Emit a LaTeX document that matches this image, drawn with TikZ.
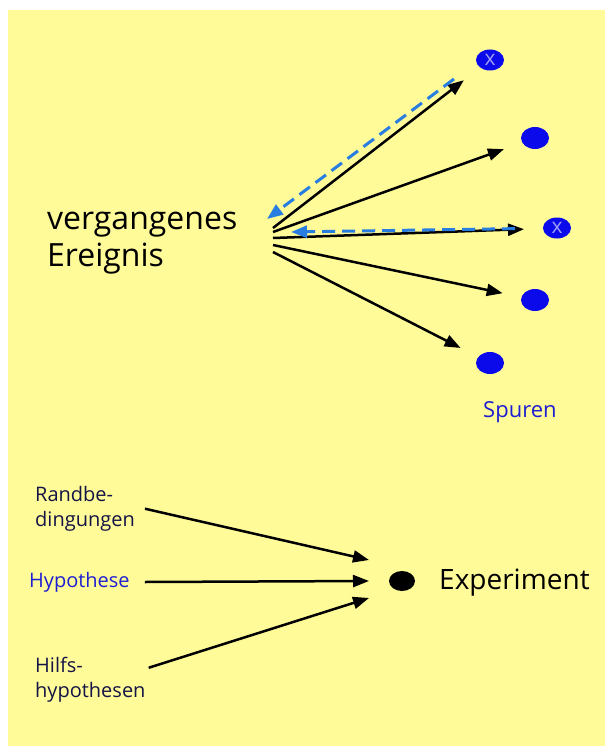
\documentclass[tikz,border=0pt]{standalone}
\usepackage{fontspec}
\setmainfont{Open Sans}
\usetikzlibrary{arrows.meta,shapes.geometric}

\definecolor{sheet}{RGB}{255,251,153}
\definecolor{spot}{RGB}{10,10,235}
\definecolor{trace}{RGB}{40,125,225}
\definecolor{navy}{RGB}{20,20,70}
\definecolor{hypblue}{RGB}{30,30,210}

\begin{document}
\begin{tikzpicture}[x=1pt,y=-1pt,>={Triangle[length=16pt,width=12pt]},
  every node/.style={inner sep=0pt},
  spur/.style={ellipse,fill=spot,minimum width=28pt,minimum height=22pt},
  spurx/.style={spur,minimum height=21pt,text=spot!40!white,font=\fontsize{21}{21}\selectfont},
  ray/.style={->,line width=2.5pt,shorten >=33pt},
  back/.style={->,trace,line width=3pt,dash pattern=on 13pt off 7pt},
  lbl/.style={align=left,text=navy,font=\fontsize{20}{25}\selectfont}]
  % sheet
  \fill[white] (0,0) rectangle (605,746);
  \fill[sheet] (8,10) rectangle (605,746);

  % past event and its traces
  \node[anchor=north west,align=left,font=\fontsize{32}{37}\selectfont] (event) at (47,212) {vergangenes\\Ereignis};
  \coordinate (src1) at (273,228);
  \coordinate (src2) at (273,232);
  \coordinate (src3) at (273,238);
  \coordinate (src4) at (273,245);
  \coordinate (src5) at (273,252);
  \node[spurx] (xtop) at (490,60) {\raisebox{1pt}{x}};
  \node[spur] (s2) at (535,138) {};
  \node[spurx] (xmid) at (557,228) {\raisebox{1pt}{x}};
  \node[spur] (s4) at (535,300) {};
  \node[spur] (s5) at (490,363) {};
  \node[anchor=base west,text=hypblue,font=\fontsize{22}{22}\selectfont] (spuren) at (483,417) {Spuren};

  \draw[ray] (src1) -- (xtop.center);
  \draw[ray] (src2) -- (s2.center);
  \draw[ray] (src3) -- (xmid.center);
  \draw[ray] (src4) -- (s4.center);
  \draw[ray] (src5) -- (s5.center);

  % looking back from the marked traces
  \coordinate (back1) at (267,219);
  \coordinate (back2) at (291,232);
  \draw[back,shorten <=35pt] ([xshift=-8pt,yshift=2pt]xtop.center) -- (back1);
  \draw[back,shorten <=42pt] (xmid.center) -- (back2);

  % experiment
  \node[lbl,anchor=north west] (rand) at (35,486) {Randbe-\\dingungen};
  \node[lbl,text=hypblue,anchor=west] (hyp) at (29,582) {Hypothese};
  \node[lbl,anchor=north west] (hilfs) at (35,657) {Hilfs-\\hypothesen};
  \node[ellipse,fill=black,minimum width=26pt,minimum height=20pt] (exp) at (402,581) {};
  \node[anchor=west,font=\fontsize{28}{28}\selectfont] (exptext) at (439,583) {Experiment};
  \coordinate (in1) at (369,560);
  \coordinate (in2) at (369,581);
  \coordinate (in3) at (369,598);

  \draw[->,line width=2.5pt] ([xshift=10pt]rand.east) -- (in1);
  \draw[->,line width=2.5pt] ([xshift=15pt]hyp.east) -- (in2);
  \draw[->,line width=2.5pt] ([xshift=3pt,yshift=12pt]hilfs.east) -- (in3);
\end{tikzpicture}
\end{document}
